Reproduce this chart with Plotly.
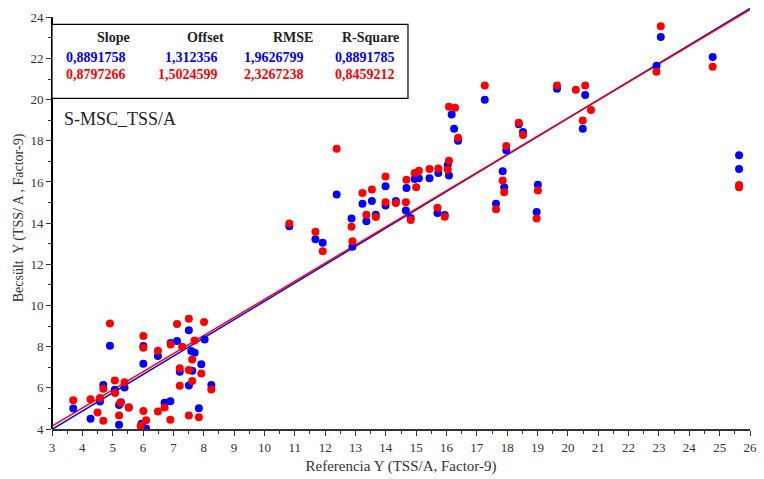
import plotly.graph_objects as go

# ---------------- data ----------------
blue_x = [3.70, 4.27, 4.58, 4.69, 4.91, 5.07, 5.21, 5.27, 5.21, 5.39, 5.53, 6.01, 6.01, 5.95, 6.10,
          6.49, 6.71, 6.90, 7.12, 6.91, 7.59, 7.70, 7.51, 8.03, 7.92, 7.21, 7.62, 7.51, 8.25, 7.84,
          10.82, 11.68, 11.92, 12.38, 12.87, 12.90, 13.23, 13.36, 13.54, 13.67, 13.99, 13.99, 14.33,
          14.68, 14.66, 14.82, 14.95, 15.09, 15.44, 15.73, 16.04, 16.08, 15.70, 15.94, 16.17, 16.25,
          16.38, 17.26, 17.63, 17.85, 17.90, 17.97, 18.38, 18.52, 19.01, 18.97, 19.64, 20.57, 20.49,
          22.92, 23.06, 24.77, 25.64, 25.64]
blue_y = [5.00, 4.50, 5.33, 6.14, 8.05, 5.91, 5.17, 5.30, 4.21, 6.02, 5.05, 8.03, 7.17, 4.26, 4.02,
          7.55, 5.27, 5.35, 8.27, 8.18, 7.79, 7.71, 8.80, 8.35, 7.15, 6.78, 6.83, 6.11, 6.14, 5.01,
          13.85, 13.22, 13.05, 15.39, 14.22, 12.85, 14.94, 14.09, 15.07, 14.41, 15.79, 14.86, 15.07,
          15.71, 14.62, 14.25, 16.14, 16.18, 16.18, 16.43, 16.82, 16.31, 14.49, 14.40, 19.28, 18.59,
          18.00, 19.99, 14.94, 16.52, 15.74, 17.54, 18.80, 18.43, 15.86, 14.54, 20.53, 20.22, 18.59,
          21.64, 23.04, 22.07, 17.30, 16.63]

red_x = [3.70, 4.27, 4.58, 4.69, 4.91, 5.07, 5.08, 5.39, 4.50, 4.69, 5.25, 5.21, 5.53, 6.01, 6.01,
         6.01, 5.92, 6.10, 6.49, 6.49, 6.71, 6.90, 7.12, 7.51, 8.01, 6.91, 7.29, 7.70, 7.62, 7.21,
         7.51, 7.92, 7.62, 7.21, 8.25, 7.51, 7.84,
         10.82, 11.68, 11.92, 12.38, 12.87, 12.90, 13.23, 13.36, 13.54, 13.67, 13.99, 13.99, 14.33,
         14.68, 14.66, 14.82, 14.95, 15.09, 15.00, 15.44, 15.73, 16.04, 16.08, 15.70, 15.94, 16.08,
         16.28, 16.38, 17.26, 17.63, 17.85, 17.90, 17.97, 18.38, 18.52, 19.01, 18.97, 19.64, 20.26,
         20.57, 20.76, 20.49, 22.92, 23.06, 24.77, 25.64, 25.64]
red_y = [5.40, 5.45, 5.50, 5.95, 9.12, 6.35, 5.75, 6.27, 4.80, 4.40, 5.28, 4.66, 5.05, 8.52, 7.95,
         4.88, 4.14, 4.42, 7.80, 4.85, 5.05, 4.45, 9.10, 9.36, 9.20, 8.10, 8.00, 8.30, 7.38, 6.95,
         6.87, 6.70, 6.33, 6.10, 5.92, 4.65, 4.57,
         13.98, 13.58, 12.64, 17.62, 13.82, 13.12, 15.46, 14.41, 15.63, 14.30, 16.26, 15.02, 14.98,
         16.11, 15.02, 14.15, 16.43, 16.55, 15.74, 16.63, 16.66, 16.60, 17.03, 14.75, 14.31, 19.66,
         19.61, 18.15, 20.69, 14.67, 16.07, 15.50, 17.75, 18.88, 18.28, 15.58, 14.22, 20.69, 20.48,
         20.69, 19.50, 18.99, 21.35, 23.57, 21.60, 15.85, 15.74]

stat_headers = ["Slope", "Offset", "RMSE", "R-Square"]
blue_stats = ["0,8891758", "1,312356", "1,9626799", "0,8891785"]
red_stats = ["0,8797266", "1,5024599", "2,3267238", "0,8459212"]
blue_slope, blue_offset = 0.8891758, 1.312356
red_slope, red_offset = 0.8797266, 1.5024599

x_title = "Referencia Y (TSS/A, Factor-9)"
y_title = "Becsült  Y (TSS/ A , Factor-9)"
model_label = "S-MSC_TSS/A"

# ---------------- layout constants ----------------
XR = [3, 26]
YR = [4, 24.5]
BLUE = "#0000FF"
RED = "#FF0000"
FONT = "Liberation Serif, Times New Roman, serif"

fig = go.Figure()

line_x = [XR[0], XR[1]]
fig.add_trace(go.Scatter(x=line_x, y=[blue_slope * v + blue_offset for v in line_x],
                         mode="lines", line=dict(color=BLUE, width=1.5), hoverinfo="skip"))
fig.add_trace(go.Scatter(x=line_x, y=[red_slope * v + red_offset for v in line_x],
                         mode="lines", line=dict(color=RED, width=1.5), hoverinfo="skip"))
fig.add_trace(go.Scatter(x=blue_x, y=blue_y, mode="markers",
                         marker=dict(color=BLUE, size=8, line=dict(width=0))))
fig.add_trace(go.Scatter(x=red_x, y=red_y, mode="markers",
                         marker=dict(color=RED, size=8, line=dict(width=0))))

# y axis line drawn only from 4 to 24
fig.add_shape(type="line", xref="paper", yref="paper", x0=0, x1=0,
              y0=0, y1=(24 - YR[0]) / (YR[1] - YR[0]),
              line=dict(color="black", width=2), layer="above")

# stats box
fig.add_shape(type="rect", xref="x", yref="y", x0=3, x1=14.73, y0=20.06, y1=23.66,
              line=dict(color="black", width=1.2), fillcolor="white", layer="above")

hdr_x = [5.63, 8.72, 11.68, 14.50]
val_x = [5.50, 8.52, 11.38, 14.37]
for i in range(4):
    fig.add_annotation(x=hdr_x[i], y=23.04, xref="x", yref="y", text="<b>%s</b>" % stat_headers[i],
                       showarrow=False, xanchor="right", yanchor="middle",
                       font=dict(family=FONT, size=14, color="#222222"))
    fig.add_annotation(x=val_x[i], y=22.07, xref="x", yref="y", text="<b>%s</b>" % blue_stats[i],
                       showarrow=False, xanchor="right", yanchor="middle",
                       font=dict(family=FONT, size=14, color=BLUE))
    fig.add_annotation(x=val_x[i], y=21.2, xref="x", yref="y", text="<b>%s</b>" % red_stats[i],
                       showarrow=False, xanchor="right", yanchor="middle",
                       font=dict(family=FONT, size=14, color=RED))

fig.add_annotation(x=3.33, y=19.04, xref="x", yref="y", text=model_label, showarrow=False,
                   xanchor="left", yanchor="middle", font=dict(family=FONT, size=18, color="#222222"))

fig.update_layout(
    width=764, height=479,
    margin=dict(l=52, r=9, t=7, b=47),
    paper_bgcolor="white", plot_bgcolor="white",
    showlegend=False,
    font=dict(family=FONT, size=13, color="#333333"),
    xaxis=dict(range=XR, showgrid=False, zeroline=False, showline=True, linecolor="#333333",
               linewidth=2, ticks="outside", tickcolor="#333333", ticklen=5, tickwidth=1,
               tick0=3, dtick=1, tickfont=dict(family=FONT, size=13, color="#333333"),
               minor=dict(ticks="outside", ticklen=3, tickcolor="#333333", dtick=0.5, tick0=3),
               title=dict(text=x_title, font=dict(family=FONT, size=15, color="#333333"), standoff=7)),
    yaxis=dict(range=YR, showgrid=False, zeroline=False, showline=False,
               ticks="outside", tickcolor="#333333", ticklen=5, tickwidth=1,
               tick0=4, dtick=2, tickfont=dict(family=FONT, size=13, color="#333333"),
               minor=dict(ticks="outside", ticklen=3, tickcolor="#333333", dtick=1, tick0=4),
               title=dict(text=y_title, font=dict(family=FONT, size=14, color="#333333"), standoff=3)),
)

fig.write_html("out.html")
